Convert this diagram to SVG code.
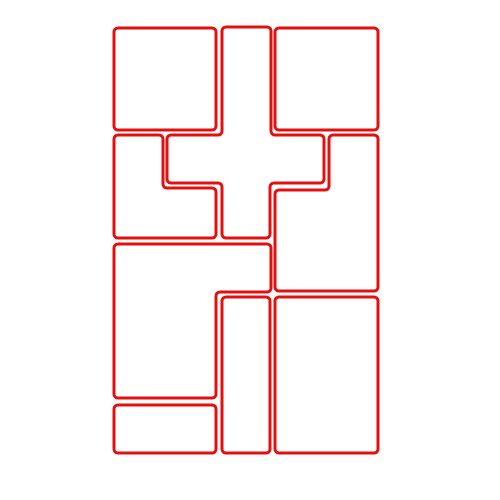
<svg xmlns="http://www.w3.org/2000/svg" width="500" height="500" viewBox="0 0 500 500">
<style>
.p{fill:none;stroke:#e31010;stroke-width:3;stroke-linejoin:round}
</style>
<rect width="500" height="500" fill="#fff"/>
<g id="room-top-left"><rect class="p" x="114" y="28" width="102" height="102" rx="4"/></g>
<g id="room-top-right"><rect class="p" x="275" y="28" width="103" height="102" rx="4"/></g>
<g id="room-cross"><path class="p" d="M226,27 H267 A4,4 0 0 1 271,31 V131 A4,4 0 0 0 275,135 H320 A4,4 0 0 1 324,139 V179 A4,4 0 0 1 320,183 H274 A4,4 0 0 0 270,187 V234 A4,4 0 0 1 266,238 H226 A4,4 0 0 1 222,234 V187 A4,4 0 0 0 218,183 H171 A4,4 0 0 1 167,179 V139 A4,4 0 0 1 171,135 H218 A4,4 0 0 0 222,131 V31 A4,4 0 0 1 226,27 Z"/></g>
<g id="room-left-l"><path class="p" d="M118,135 H159 A4,4 0 0 1 163,139 V184 A4,4 0 0 0 167,188 H212 A4,4 0 0 1 216,192 V234 A4,4 0 0 1 212,238 H118 A4,4 0 0 1 114,234 V139 A4,4 0 0 1 118,135 Z"/></g>
<g id="room-right-l"><path class="p" d="M333,135 H374 A4,4 0 0 1 378,139 V287 A4,4 0 0 1 374,291 H279 A4,4 0 0 1 275,287 V194 A4,4 0 0 1 279,190 H325 A4,4 0 0 0 329,186 V139 A4,4 0 0 1 333,135 Z"/></g>
<g id="room-lower-l"><path class="p" d="M118,244 H267 A4,4 0 0 1 271,248 V288 A4,4 0 0 1 267,292 H220 A4,4 0 0 0 216,296 V394 A4,4 0 0 1 212,398 H118 A4,4 0 0 1 114,394 V248 A4,4 0 0 1 118,244 Z"/></g>
<g id="room-middle-narrow"><rect class="p" x="222" y="297" width="48" height="156" rx="4"/></g>
<g id="room-bottom-left"><rect class="p" x="114" y="405" width="102" height="48" rx="4"/></g>
<g id="room-bottom-right"><rect class="p" x="275" y="297" width="103" height="156" rx="4"/></g>
</svg>
